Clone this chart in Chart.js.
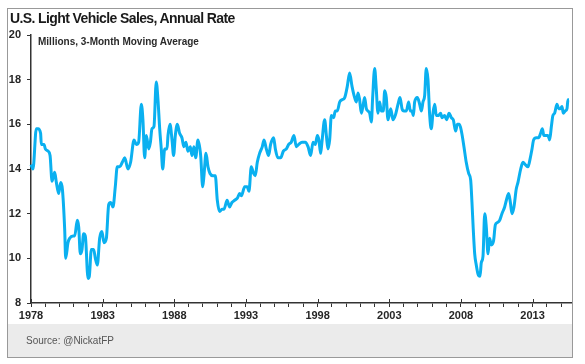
<!DOCTYPE html>
<html><head><meta charset="utf-8">
<script src="https://cdn.jsdelivr.net/npm/chart.js@4.4.0/dist/chart.umd.min.js"></script>
<style>
html,body{margin:0;padding:0;background:#fff;width:585px;height:364px;overflow:hidden;font-family:"Liberation Sans",Arial,sans-serif;}
#box{position:absolute;left:7px;top:8px;width:566px;height:350px;box-sizing:border-box;border:1px solid #999;}
#foot{position:absolute;left:0;right:0;bottom:0;height:33px;background:#ebebeb;}
#title{position:absolute;left:10px;top:10px;font-size:14px;line-height:16px;font-weight:bold;letter-spacing:-0.6px;color:#1a1a1a;white-space:nowrap;}
#sub{position:absolute;left:38px;top:36px;font-size:10px;line-height:11.5px;font-weight:bold;color:#2a2a2a;white-space:nowrap;}
#src{position:absolute;left:26px;top:335px;font-size:10px;line-height:11.5px;color:#555;white-space:nowrap;}
canvas{position:absolute;left:0;top:0;}
</style></head>
<body>
<div id="box"><div id="foot"></div></div>
<canvas id="c" width="585" height="364"></canvas>
<div id="title">U.S. Light Vehicle Sales, Annual Rate</div>
<div id="sub">Millions, 3-Month Moving Average</div>
<div id="src">Source: @NickatFP</div>
<script>
const dates = [1978.0,1978.14,1978.37,1978.49,1978.67,1978.72,1978.91,1979.0,1979.19,1979.33,1979.47,1979.65,1979.77,1979.93,1980.07,1980.19,1980.35,1980.42,1980.58,1980.7,1980.93,1981.05,1981.23,1981.33,1981.44,1981.56,1981.67,1981.79,1981.98,1982.07,1982.21,1982.37,1982.49,1982.63,1982.79,1982.95,1983.09,1983.26,1983.42,1983.56,1983.72,1983.88,1984.02,1984.19,1984.37,
1984.54,1984.77,1984.95,1985.19,1985.35,1985.51,1985.7,1985.81,1985.93,1986.05,1986.21,1986.33,1986.44,1986.58,1986.74,1986.86,1986.98,1987.09,1987.19,1987.33,1987.49,1987.56,1987.7,1987.84,1987.95,1988.07,1988.21,1988.37,1988.53,1988.67,1988.81,1988.95,1989.12,1989.23,1989.37,1989.49,1989.65,1989.84,1989.98,1990.07,1990.21,1990.35,1990.49,1990.7,
1990.86,1991.0,1991.16,1991.33,1991.47,1991.68,1991.86,1992.02,1992.21,1992.4,1992.56,1992.68,1992.91,1993.09,1993.21,1993.37,1993.53,1993.65,1993.79,1993.95,1994.14,1994.26,1994.42,1994.58,1994.72,1994.93,1995.05,1995.23,1995.42,1995.61,1995.82,1995.98,1996.16,1996.35,1996.51,1996.68,1996.91,
1997.14,1997.33,1997.51,1997.68,1997.84,1997.98,1998.09,1998.21,1998.3,1998.49,1998.61,1998.72,1998.84,1998.96,1999.12,1999.23,1999.37,1999.54,1999.7,1999.89,2000.07,2000.23,2000.4,2000.54,2000.7,2000.82,2000.93,2001.05,2001.16,2001.28,2001.4,2001.51,2001.63,2001.75,2001.84,2001.98,2002.09,2002.21,2002.33,2002.44,2002.58,2002.68,2002.79,2002.91,
2003.1,2003.26,2003.42,2003.61,2003.75,2003.89,2004.03,2004.19,2004.35,2004.47,2004.58,2004.68,2004.77,2004.96,2005.12,2005.24,2005.35,2005.47,2005.58,2005.7,2005.82,2005.93,2006.05,2006.17,2006.28,2006.44,2006.58,2006.68,2006.86,2007.0,2007.17,2007.33,2007.47,2007.63,2007.75,2007.89,2008.03,2008.21,2008.37,2008.54,2008.68,2008.77,2008.86,2008.96,2009.07,2009.19,2009.33,
2009.42,2009.54,2009.66,2009.77,2009.89,2010.0,2010.12,2010.28,2010.4,2010.54,2010.7,2010.86,2011.05,2011.17,2011.33,2011.45,2011.56,2011.7,2011.86,2011.98,2012.17,2012.33,2012.49,2012.68,2012.84,2012.96,2013.07,2013.26,2013.42,2013.56,2013.68,2013.79,2013.96,2014.07,2014.19,2014.31,2014.42,2014.54,2014.7,2014.82,2014.93,2015.05,2015.14,2015.28,2015.4,2015.47,2015.54];
const sales = [14.2,14.0,15.8,15.8,15.6,15.1,15.1,14.9,14.8,14.6,13.45,13.85,13.4,12.9,13.4,13.1,11.3,10.0,10.7,10.9,11.0,11.0,11.7,11.4,10.2,10.4,11.1,11.0,9.1,9.2,10.4,10.4,10.0,9.7,10.9,11.2,10.7,10.9,12.4,12.5,12.3,13.2,14.1,14.1,14.3,
14.5,14.0,14.3,15.3,15.1,15.2,16.9,16.2,14.5,15.5,14.9,15.2,15.8,15.9,17.9,17.1,15.8,14.9,14.0,14.9,14.9,15.5,16.0,15.3,14.6,15.5,16.0,15.6,15.4,15.0,15.2,14.8,15.0,14.6,15.0,14.5,15.3,14.6,13.2,13.7,14.7,14.1,13.8,13.7,
13.7,12.6,12.1,12.2,12.2,12.6,12.3,12.5,12.6,12.7,12.9,12.8,13.2,13.2,13.0,14.1,13.8,13.7,14.3,14.7,15.0,15.3,14.9,14.6,15.1,15.4,14.9,14.5,14.5,14.8,14.9,15.1,15.2,15.5,15.0,15.1,15.2,
15.2,15.0,14.6,15.2,15.1,15.5,15.3,14.7,15.2,16.2,15.5,14.9,15.3,16.4,16.3,16.6,16.6,17.0,17.1,17.2,17.7,18.3,17.7,17.3,17.0,17.4,17.1,16.5,16.8,17.2,16.7,16.6,16.5,16.1,17.2,18.5,17.6,16.5,17.0,16.6,16.6,17.5,17.2,16.2,
16.7,16.2,16.4,16.9,17.2,16.7,16.6,16.6,17.0,16.6,16.6,16.4,17.0,17.2,16.9,16.6,17.0,17.3,18.5,18.0,16.4,15.8,16.5,16.9,16.4,16.4,16.5,16.3,16.4,16.2,16.5,16.3,16.2,15.7,16.0,16.0,15.7,15.0,14.3,13.8,13.5,12.5,11.3,10.2,9.7,9.3,9.2,
9.8,10.1,12.0,11.4,10.2,10.9,10.6,10.8,11.5,11.6,11.7,12.0,12.3,12.6,12.9,12.5,12.0,12.3,13.1,13.4,14.0,14.3,14.2,14.1,14.5,14.9,15.3,15.4,15.4,15.6,15.8,15.5,15.5,15.5,15.3,15.9,16.4,16.5,16.9,16.7,16.7,16.8,16.5,16.6,16.7,17.1,17.1];
const labelYears = [1978,1983,1988,1993,1998,2003,2008,2013];
const minorYears = [];
for (let y = 1978; y <= 2015; y++) minorYears.push(y);
const yTicks = [8,10,12,14,16,18,20];

const majorTickPlugin = {
  id: 'majorTicks',
  afterDraw(chart) {
    const xs = chart.scales.x, ctx = chart.ctx, y0 = chart.chartArea.bottom;
    ctx.save();
    ctx.strokeStyle = '#333';
    ctx.lineWidth = 1;
    labelYears.forEach(v => {
      const px = Math.round(xs.getPixelForValue(v)) + 0.5;
      ctx.beginPath(); ctx.moveTo(px, y0 - 4); ctx.lineTo(px, y0); ctx.stroke();
    });
    ctx.restore();
  }
};

new Chart(document.getElementById('c'), {
  type: 'line',
  data: { datasets: [{
    data: dates.map((d, i) => ({ x: d, y: sales[i] })),
    borderColor: '#0AB0F0', borderWidth: 3, pointRadius: 0,
    cubicInterpolationMode: 'monotone', fill: false, clip: false
  }]},
  options: {
    responsive: false, devicePixelRatio: 1, animation: false,
    layout: { padding: { left: 0, top: 35, right: 14, bottom: 41 } },
    plugins: { legend: { display: false }, tooltip: { enabled: false } },
    scales: {
      x: {
        type: 'linear', min: 1978, max: 2015.68,
        afterBuildTicks: s => { s.ticks = minorYears.map(v => ({ value: v })); },
        afterFit: s => { s.height = 20; },
        grid: { drawOnChartArea: false, drawTicks: true, tickLength: 4, tickColor: '#333', tickWidth: 1 },
        border: { display: true, color: '#333', width: 1.5 },
        ticks: { autoSkip: false, maxRotation: 0, padding: 2, color: '#262626',
          font: { family: 'Liberation Sans', size: 11, weight: 'bold' },
          callback: v => labelYears.includes(v) ? String(v) : '' }
      },
      y: {
        min: 8, max: 20,
        afterBuildTicks: s => { s.ticks = yTicks.map(v => ({ value: v })); },
        afterFit: s => { s.width = 31; },
        grid: { drawOnChartArea: false, drawTicks: true, tickLength: 4, tickColor: '#333', tickWidth: 1 },
        border: { display: true, color: '#333', width: 1.5 },
        ticks: { padding: 6, color: '#262626', font: { family: 'Liberation Sans', size: 11, weight: 'bold' } }
      }
    }
  },
  plugins: [majorTickPlugin]
});
</script>
</body></html>
